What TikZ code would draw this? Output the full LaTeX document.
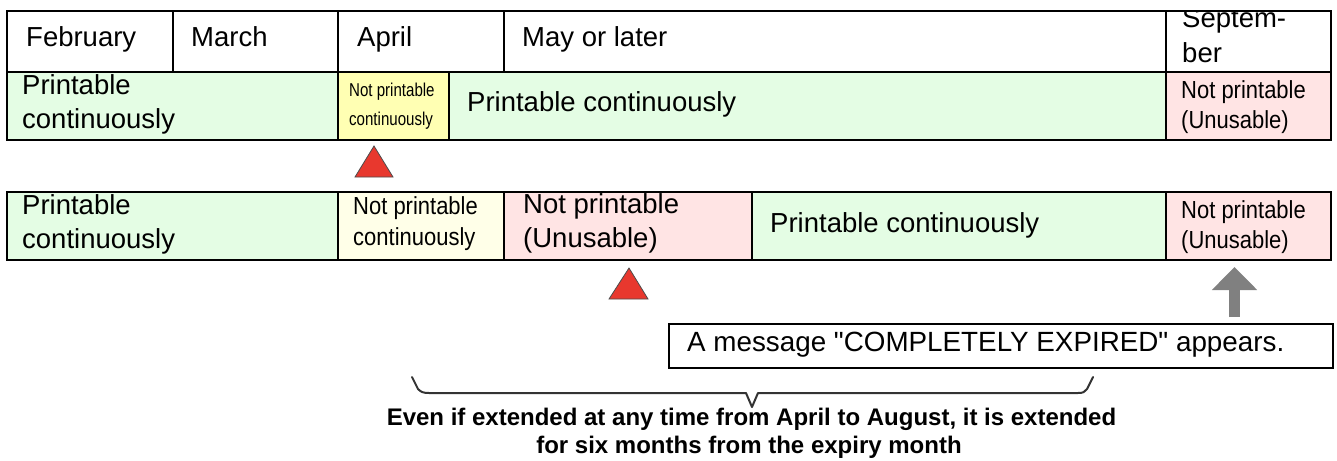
\documentclass[tikz,border=0pt]{standalone}
\usepackage{fontspec}
\setmainfont{Liberation Sans}
\newfontfamily\plainsans{Liberation Sans}
\newfontfamily\narrowa[FakeStretch=0.81]{Liberation Sans}
\newfontfamily\narrowb[FakeStretch=0.89]{Liberation Sans}
\usetikzlibrary{fit,arrows.meta}
\definecolor{cgreen}{RGB}{228,253,228}
\definecolor{cyellow}{RGB}{255,255,179}
\definecolor{cpale}{RGB}{255,255,232}
\definecolor{cpink}{RGB}{255,228,228}
\definecolor{cred}{RGB}{232,56,46}
\definecolor{cgrayarrow}{RGB}{128,128,128}
\definecolor{cbrace}{RGB}{51,51,51}
\newcommand\twolines[3]{\vtop{\baselineskip=#3pt\hbox{#1}\hbox{#2}}}
\tikzset{
  cellbox/.style={draw=black, line width=2pt, inner sep=0pt, outer sep=0pt},
  bigtxt/.style={anchor=base west, inner sep=0pt, font=\fontsize{27.5}{33}\selectfont},
  msgtxt/.style={anchor=base west, inner sep=0pt, font=\plainsans\fontsize{27.8}{33}\selectfont},
  smalltxt/.style={anchor=base west, inner sep=0pt, font=\narrowa\fontsize{18.6}{22}\selectfont},
  midtxt/.style={anchor=base west, inner sep=0pt, font=\narrowb\fontsize{24.7}{29}\selectfont},
  notetxt/.style={anchor=base, inner sep=0pt, font=\bfseries\fontsize{24}{28}\selectfont},
  redtri/.style={fill=cred, draw=black!70, line width=0.8pt, line join=miter},
  grayarrow/.style={draw=cgrayarrow, line width=11pt, -{Triangle[length=23pt,width=44pt]}},
  bracepath/.style={draw=cbrace, line width=2pt, line join=round, line cap=round},
}
\begin{document}
\begin{tikzpicture}[x=1pt,y=-1pt]
\useasboundingbox (0,0) rectangle (1337,460);
% header row
\node[cellbox, fill=white, fit={(7,11) (173,72)}] (h1) {};
\node[cellbox, fill=white, fit={(173,11) (338,72)}] (h2) {};
\node[cellbox, fill=white, fit={(338,11) (504,72)}] (h3) {};
\node[cellbox, fill=white, fit={(504,11) (1166,72)}] (h4) {};
\node[cellbox, fill=white, fit={(1166,11) (1331,72)}] (h5) {};
% row 1
\node[cellbox, fill=cgreen, fit={(7,72) (338,140)}] (a1) {};
\node[cellbox, fill=cyellow, fit={(338,72) (449,140)}] (b1) {};
\node[cellbox, fill=cgreen, fit={(449,72) (1166,140)}] (c1) {};
\node[cellbox, fill=cpink, fit={(1166,72) (1331,140)}] (d1) {};
% row 2
\node[cellbox, fill=cgreen, fit={(7,192) (338,260)}] (a2) {};
\node[cellbox, fill=cpale, fit={(338,192) (504,260)}] (b2) {};
\node[cellbox, fill=cpink, fit={(504,192) (752,260)}] (c2) {};
\node[cellbox, fill=cgreen, fit={(752,192) (1166,260)}] (d2) {};
\node[cellbox, fill=cpink, fit={(1166,192) (1331,260)}] (e2) {};
% header texts
\node[bigtxt] (tfeb) at (26,46) {February};
\node[bigtxt] (tmar) at (191,46) {March};
\node[bigtxt] (tapr) at (357,46) {April};
\node[bigtxt] (tmay) at (522,46) {May or later};
\begin{scope}
  \clip (1167,12) rectangle (1330,71);
  \node[bigtxt] (tsep) at (1182,28) {\twolines{Septem-}{ber}{35}};
\end{scope}
% row 1 texts
\node[bigtxt] (ta1) at (22,94) {\twolines{Printable}{continuously}{34}};
\node[smalltxt] (tb1) at (349,96) {\twolines{Not printable}{continuously}{29}};
\node[bigtxt] (tc1) at (467,111) {Printable continuously};
\node[midtxt] (td1) at (1181,98) {\twolines{Not printable}{(Unusable)}{30}};
% row 2 texts
\node[bigtxt] (ta2) at (22,214) {\twolines{Printable}{continuously}{34}};
\node[midtxt] (tb2) at (353,214) {\twolines{Not printable}{continuously}{31}};
\node[bigtxt] (tc2) at (523,213) {\twolines{Not printable}{(Unusable)}{34}};
\node[bigtxt] (td2) at (770,232) {Printable continuously};
\node[midtxt] (te2) at (1181,218) {\twolines{Not printable}{(Unusable)}{30}};
% red markers
\path[redtri] (355,177) -- (374,146) -- (393,177) -- cycle;
\path[redtri] (609,299) -- (629,268) -- (648,299) -- cycle;
% message box and arrow
\node[cellbox, fill=white, fit={(669,324) (1333,368)}] (msgbox) {};
\node[msgtxt] (msg) at (687,351) {A message "COMPLETELY EXPIRED" appears.};
\coordinate (arrowfoot) at (1234.5,317);
\coordinate (arrowtip) at (1234.5,267);
\draw[grayarrow] (arrowfoot) -- (arrowtip);
% brace
\draw[bracepath] (412,377) -- (418,389) .. controls (421,392) and (423,393) .. (429,393)
  -- (746,393) -- (752,407) -- (758,393) -- (1078,393)
  .. controls (1083,393) and (1085,392) .. (1087,389) -- (1093,377);
% note
\node[notetxt] (note1) at (751.5,425) {Even if extended at any time from April to August, it is extended};
\node[notetxt] (note2) at (749,453) {for six months from the expiry month};
\end{tikzpicture}
\end{document}
